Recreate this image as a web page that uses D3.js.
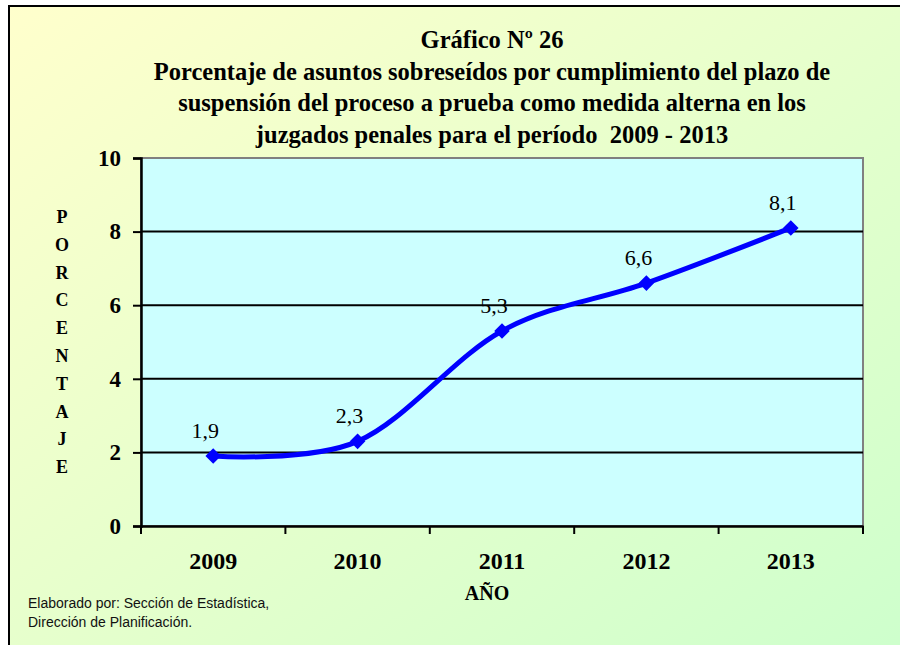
<!DOCTYPE html>
<html lang="es">
<head>
  <meta charset="utf-8">
  <title>Gráfico Nº 26</title>
  <script src="https://d3js.org/d3.v7.min.js"></script>
  <style>
    body { margin: 0; background: #fff; }
  </style>
</head>
<body>
<script>
  // data
  var years = ['2009', '2010', '2011', '2012', '2013'];
  var values = [1.9, 2.3, 5.3, 6.6, 8.1];
  var yTicks = [0, 2, 4, 6, 8, 10];
  var titleLines = [
    'Gráfico Nº 26',
    'Porcentaje de asuntos sobreseídos por cumplimiento del plazo de',
    'suspensión del proceso a prueba como medida alterna en los',
    'juzgados penales para el período  2009 - 2013'
  ];
  var yTitle = 'PORCENTAJE';
  var sourceLines = ['Elaborado por: Sección de Estadística,', 'Dirección de Planificación.'];

  var SERIF = '"Liberation Serif", "Times New Roman", serif';
  var SANS = '"Liberation Sans", Arial, sans-serif';

  var W = 900, H = 645;
  var plot = { left: 141, top: 158, right: 863, bottom: 526 };

  var svg = d3.select('body').append('svg')
    .attr('width', W)
    .attr('height', H);

  var defs = svg.append('defs');
  var grad = defs.append('linearGradient')
    .attr('id', 'bg')
    .attr('x1', '0%').attr('y1', '0%')
    .attr('x2', '100%').attr('y2', '100%');
  grad.append('stop').attr('offset', '0%').attr('stop-color', '#FFFFCC');
  grad.append('stop').attr('offset', '100%').attr('stop-color', '#CCFFCC');

  // outer frame (runs off the right and bottom of the picture)
  svg.append('rect')
    .attr('x', 9).attr('y', 6)
    .attr('width', W + 20).attr('height', H + 20)
    .attr('fill', 'url(#bg)')
    .attr('stroke', '#000')
    .attr('stroke-width', 2);

  var x = d3.scaleBand()
    .domain(years)
    .range([plot.left, plot.right]);

  var y = d3.scaleLinear()
    .domain([0, 10])
    .range([plot.bottom, plot.top]);

  // plot area
  svg.append('rect')
    .attr('x', plot.left).attr('y', plot.top)
    .attr('width', plot.right - plot.left)
    .attr('height', plot.bottom - plot.top)
    .attr('fill', '#CCFFFF')
    .attr('stroke', '#808080')
    .attr('stroke-width', 2);

  // gridlines
  svg.append('g')
    .selectAll('line')
    .data(yTicks.filter(function(d) { return d > 0 && d < 10; }))
    .enter()
    .append('line')
    .attr('x1', plot.left).attr('x2', plot.right)
    .attr('y1', function(d) { return y(d); })
    .attr('y2', function(d) { return y(d); })
    .attr('stroke', '#000')
    .attr('stroke-width', 2);

  // y axis
  var yAxis = svg.append('g')
    .attr('transform', 'translate(' + plot.left + ',0)')
    .call(d3.axisLeft(y).tickValues(yTicks).tickSize(8).tickPadding(12).tickFormat(d3.format('d')));
  yAxis.select('.domain').attr('stroke', '#000').attr('stroke-width', 2.5);
  yAxis.selectAll('.tick line').attr('stroke', '#000').attr('stroke-width', 2);
  yAxis.selectAll('.tick text')
    .style('font-family', SERIF)
    .style('font-size', '23px')
    .style('font-weight', 'bold')
    .attr('fill', '#000');

  // x axis, ticks on category boundaries
  var xAxis = svg.append('g')
    .attr('transform', 'translate(0,' + plot.bottom + ')')
    .call(d3.axisBottom(x).tickSize(0));
  xAxis.select('.domain').attr('stroke', '#000').attr('stroke-width', 2.5);
  xAxis.selectAll('.tick text')
    .attr('y', 43)
    .attr('dy', null)
    .style('font-family', SERIF)
    .style('font-size', '24px')
    .style('font-weight', 'bold')
    .attr('fill', '#000');

  var bounds = years.map(function(d) { return x(d); }).concat([plot.right]);
  svg.append('g')
    .selectAll('line')
    .data(bounds)
    .enter()
    .append('line')
    .attr('x1', function(d) { return d; })
    .attr('x2', function(d) { return d; })
    .attr('y1', plot.bottom)
    .attr('y2', plot.bottom + 8)
    .attr('stroke', '#000')
    .attr('stroke-width', 2);

  // series
  var pts = years.map(function(d, i) {
    return { year: d, value: values[i] };
  });
  var cx = function(d) { return x(d.year) + x.bandwidth() / 2; };

  // excel-style smoothing ~ uniform catmull-rom
  var line = d3.line()
    .x(cx)
    .y(function(d) { return y(d.value); })
    .curve(d3.curveCardinal.tension(0));

  svg.append('path')
    .datum(pts)
    .attr('d', line)
    .attr('fill', 'none')
    .attr('stroke', '#0000FF')
    .attr('stroke-width', 5)
    .attr('stroke-linejoin', 'round');

  svg.append('g')
    .selectAll('rect')
    .data(pts)
    .enter()
    .append('rect')
    .attr('x', -5.5).attr('y', -5.5)
    .attr('width', 11).attr('height', 11)
    .attr('fill', '#0000FF')
    .attr('transform', function(d) {
      return 'translate(' + cx(d) + ',' + y(d.value) + ') rotate(45)';
    });

  svg.append('g')
    .selectAll('text')
    .data(pts)
    .enter()
    .append('text')
    .attr('x', function(d) { return cx(d) - 8; })
    .attr('y', function(d) { return y(d.value) - 18; })
    .attr('text-anchor', 'middle')
    .style('font-family', SERIF)
    .style('font-size', '22px')
    .attr('fill', '#000')
    .text(function(d) { return String(d.value).replace('.', ','); });

  // title
  svg.append('g')
    .selectAll('text')
    .data(titleLines)
    .enter()
    .append('text')
    .attr('x', 492)
    .attr('y', function(d, i) { return 48 + i * 31.5; })
    .attr('text-anchor', 'middle')
    .style('font-family', SERIF)
    .style('font-size', '24.5px')
    .style('font-weight', 'bold')
    .style('white-space', 'pre')
    .attr('fill', '#000')
    .text(function(d) { return d; });

  // y title, stacked letters
  svg.append('g')
    .selectAll('text')
    .data(yTitle.split(''))
    .enter()
    .append('text')
    .attr('x', 62)
    .attr('y', function(d, i) { return 223 + i * 27.8; })
    .attr('text-anchor', 'middle')
    .style('font-family', SERIF)
    .style('font-size', '18px')
    .style('font-weight', 'bold')
    .attr('fill', '#000')
    .text(function(d) { return d; });

  // x title
  svg.append('text')
    .attr('x', 487)
    .attr('y', 600)
    .attr('text-anchor', 'middle')
    .style('font-family', SERIF)
    .style('font-size', '20px')
    .style('font-weight', 'bold')
    .attr('fill', '#000')
    .text('AÑO');

  // source note
  svg.append('g')
    .selectAll('text')
    .data(sourceLines)
    .enter()
    .append('text')
    .attr('x', 28)
    .attr('y', function(d, i) { return 608 + i * 19; })
    .style('font-family', SANS)
    .style('font-size', '14px')
    .attr('fill', '#111')
    .text(function(d) { return d; });
</script>
</body>
</html>
